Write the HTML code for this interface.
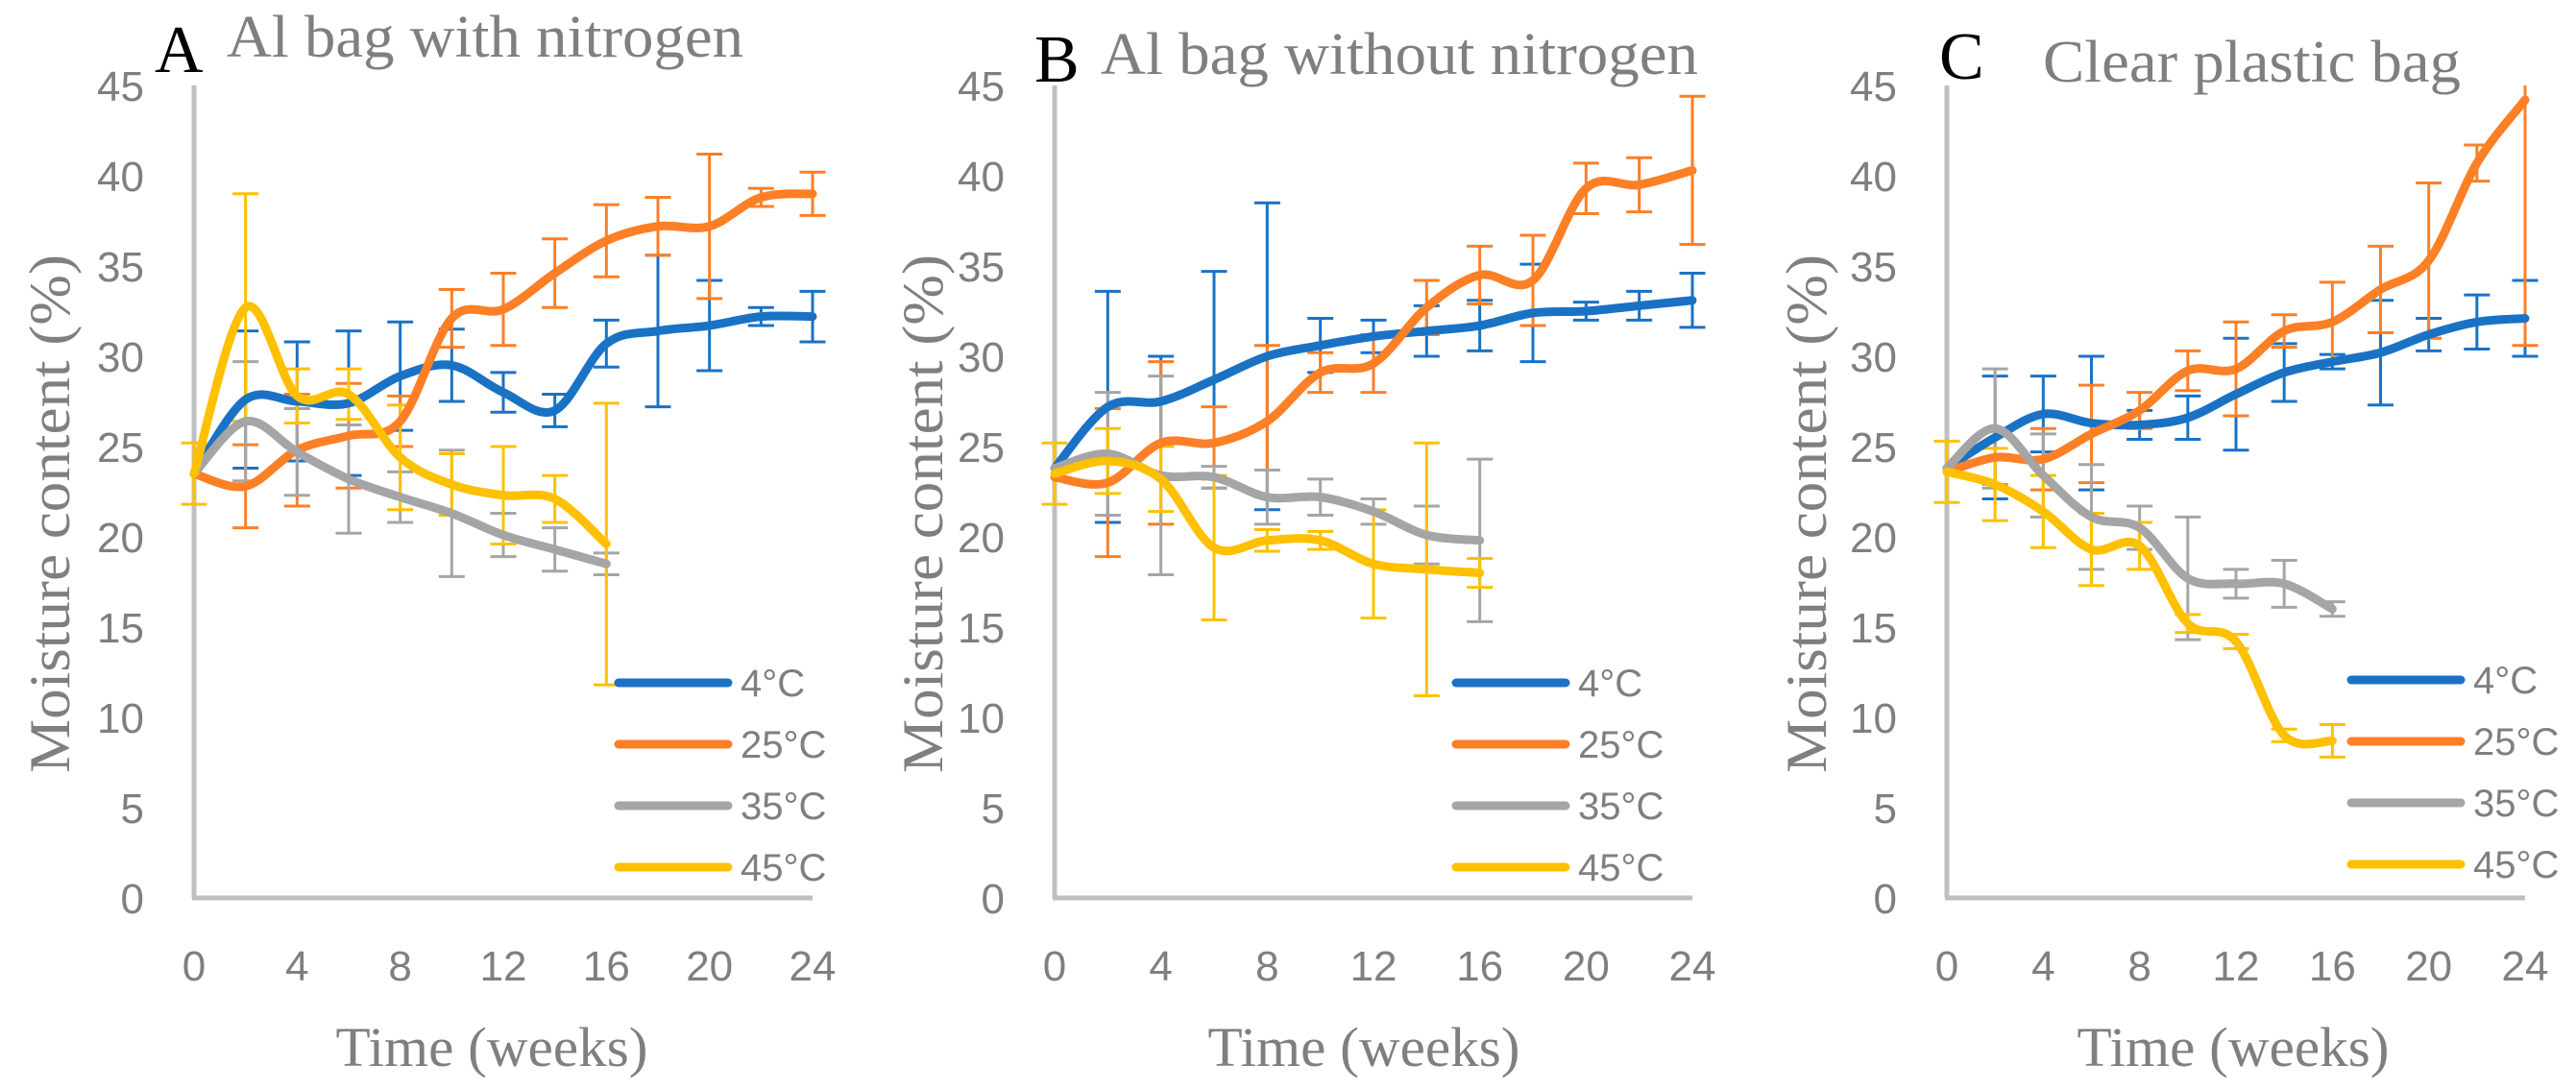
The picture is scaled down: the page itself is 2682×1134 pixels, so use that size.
<!DOCTYPE html>
<html><head><meta charset="utf-8"><style>
html,body{margin:0;padding:0;background:#fff;}
svg{display:block;}
</style></head><body>
<svg id="chart" width="2682" height="1134" viewBox="0 0 2682 1134" xmlns="http://www.w3.org/2000/svg"></svg>
<script>
// ---- data ----
const weeks = [0,2,4,6,8,10,12,14,16,18,20,22,24];
const xTicks = [0,4,8,12,16,20,24];
const yTicks = [0,5,10,15,20,25,30,35,40,45];
const seriesNames = ["4°C","25°C","35°C","45°C"];
const panelLetters = ["A","B","C"];
const panelTitles = ["Al bag with nitrogen","Al bag without nitrogen","Clear plastic bag"];

const a4   = [23.5,27.6,27.5,27.4,28.9,29.5,28.0,27.0,30.7,31.4,31.7,32.2,32.2];
const a4e  = [0,3.8,3.3,4,3,2,1.1,0.9,1.3,4.2,2.5,0.5,1.4];
const a25  = [23.5,22.8,24.8,25.6,26.4,32.1,32.6,34.6,36.4,37.2,37.2,38.8,39.0];
const a25e = [0,2.3,3.1,2.9,1.4,1.6,2,1.9,2,1.6,4,0.5,1.2];
const a35  = [23.5,26.4,24.7,23.2,22.2,21.3,20.1,19.3,18.5];
const a35e = [0,3.3,2.4,3,1.4,3.5,1.2,1.2,0.6];
const a45  = [23.5,32.7,27.8,27.9,24.4,22.9,22.3,22.1,19.6];
const a45e = [1.7,6.3,1.5,1.4,2.9,1.7,2.7,1.3,7.8];

const b4   = [23.8,27.2,27.5,28.7,30.0,30.6,31.1,31.4,31.7,32.4,32.5,32.8,33.1];
const b4e  = [0,6.4,2.5,6,8.5,1.5,0.9,1.4,1.4,2.7,0.5,0.8,1.5];
const b25  = [23.3,23.0,25.2,25.2,26.4,29.1,29.6,32.7,34.5,34.2,39.3,39.5,40.3];
const b25e = [0,4.1,4.5,2,4.2,1.1,1.6,1.5,1.6,2.5,1.4,1.5,4.1];
const b35  = [23.8,24.6,23.4,23.3,22.2,22.2,21.4,20.1,19.8];
const b35e = [0,3.4,5.5,0.6,1.5,1,0.7,1.6,4.5];
const b45  = [23.5,24.2,23.2,19.4,19.8,19.8,18.5,18.2,18.0];
const b45e = [1.7,1.8,1.8,4,0.6,0.5,3,7,0.8];

const c4   = [23.8,25.5,26.8,26.3,26.2,26.6,27.9,29.1,29.7,30.2,31.2,31.9,32.1];
const c4e  = [0,3.4,2.1,3.7,0.8,1.2,3.1,1.6,0.4,2.9,0.9,1.5,2.1];
const c25  = [23.6,24.4,24.3,25.7,27.0,29.2,29.3,31.4,31.9,33.7,35.3,40.7,44.2];
const c25e = [0,1.5,1.7,2.7,1,1.1,2.6,0.9,2.2,2.4,4.3,1,13.6];
const c35  = [23.8,26.0,23.4,21.1,20.5,17.7,17.4,17.4,16.0];
const c35e = [0,3.3,2.3,2.9,1.2,3.4,0.8,1.3,0.4];
const c45  = [23.6,22.9,21.4,19.3,19.5,15.2,14.2,9.0,8.7];
const c45e = [1.7,2,2,2,1.3,0.5,0.4,0.35,0.9];

// ---- layout ----
const colors = ["#1a72c5","#fd7f26","#a5a5a5","#ffc000"];
const panels = [
  {x0:202, x1:846, legX:640, legY:711, yTitleX:52, xTitleX:512, letterX:161, letterY:75, titleX:236, titleY:59, titleW:538,
   vals:[a4,a25,a35,a45], errs:[a4e,a25e,a35e,a45e]},
  {x0:1098, x1:1762, legX:1512, legY:711, yTitleX:961, xTitleX:1420, letterX:1077, letterY:85, titleX:1146, titleY:77, titleW:622,
   vals:[b4,b25,b35,b45], errs:[b4e,b25e,b35e,b45e]},
  {x0:2027, x1:2629, legX:2444, legY:708, yTitleX:1881, xTitleX:2325, letterX:2019, letterY:82, titleX:2127, titleY:85, titleW:435,
   vals:[c4,c25,c35,c45], errs:[c4e,c25e,c35e,c45e]}
];
const Y0 = 935, Y45 = 89;
function yScale(v){ return Y0 - (Y0 - Y45) * Math.max(0, Math.min(45, v)) / 45; }
function xScaleFor(p){ return w => p.x0 + (p.x1 - p.x0) * w / 24; }

const NS = "http://www.w3.org/2000/svg";
const svg = document.getElementById("chart");
function mk(tag, attrs, parent){
  const e = document.createElementNS(NS, tag);
  for (const k in attrs) e.setAttribute(k, attrs[k]);
  (parent || svg).appendChild(e);
  return e;
}
function smoothPath(pts){
  let d = "M" + pts[0][0] + "," + pts[0][1];
  for (let i = 0; i < pts.length - 1; i++){
    const p0 = pts[i-1] || pts[i], p1 = pts[i], p2 = pts[i+1], p3 = pts[i+2] || pts[i+1];
    const c1x = p1[0] + (p2[0]-p0[0])/6, c1y = p1[1] + (p2[1]-p0[1])/6;
    const c2x = p2[0] - (p3[0]-p1[0])/6, c2y = p2[1] - (p3[1]-p1[1])/6;
    d += " C" + c1x + "," + c1y + " " + c2x + "," + c2y + " " + p2[0] + "," + p2[1];
  }
  return d;
}
const SANS = "'Liberation Sans', Arial, sans-serif";
const SERIF = "'Liberation Serif', 'Times New Roman', serif";

panels.forEach((p, pi) => {
  const xs = xScaleFor(p);
  const g = mk("g", {});
  
  

  const ya = mk("line", {x1:p.x0, y1:Y45, x2:p.x0, y2:Y0, stroke:"#bfbfbf", "stroke-width":5}, g);
  
  
  const xa = mk("line", {x1:p.x0-2, y1:Y0, x2:p.x1, y2:Y0, stroke:"#bfbfbf", "stroke-width":5}, g);
  
  

  yTicks.forEach(t => {
    const tx = mk("text", {x:p.x0-52, y:yScale(t)+16, "text-anchor":"end", fill:"#7f7f7f", "font-size":44, "font-family":SANS}, g);
    tx.textContent = t;
    
    
  });
  xTicks.forEach(t => {
    const tx = mk("text", {x:xs(t), y:1021, "text-anchor":"middle", fill:"#7f7f7f", "font-size":44, "font-family":SANS}, g);
    tx.textContent = t;
    
    
  });

  const yt = mk("text", {x:0, y:0, transform:"translate(" + (p.yTitleX+20) + ",535) rotate(-90)", "text-anchor":"middle", fill:"#7f7f7f", "font-size":60, "font-family":SERIF, textLength:540, lengthAdjust:"spacingAndGlyphs"}, g);
  yt.textContent = "Moisture content (%)";
  
  
  const xt = mk("text", {x:p.xTitleX, y:1110, "text-anchor":"middle", fill:"#7f7f7f", "font-size":58, "font-family":SERIF, textLength:325, lengthAdjust:"spacingAndGlyphs"}, g);
  xt.textContent = "Time (weeks)";
  
  
  const lt = mk("text", {x:p.letterX, y:p.letterY, fill:"#000", "font-size":70, "font-family":SERIF}, g);
  lt.textContent = panelLetters[pi];
  
  
  const tt = mk("text", {x:p.titleX, y:p.titleY, fill:"#7f7f7f", "font-size":62, "font-family":SERIF, textLength:p.titleW, lengthAdjust:"spacingAndGlyphs"}, g);
  tt.textContent = panelTitles[pi];
  
  

  p.vals.forEach((vals, si) => {
    const errs = p.errs[si];
    vals.forEach((v, i) => {
      const e = errs[i];
      if (!e) return;
      const x = xs(weeks[i]), yt2 = yScale(v+e), yb = yScale(v-e);
      const eg = mk("g", {stroke:colors[si], "stroke-width":3}, g);
      
      
      mk("line", {x1:x, y1:yt2, x2:x, y2:yb}, eg);
      if (v + e <= 45) mk("line", {x1:x-13.5, y1:yt2, x2:x+13.5, y2:yt2}, eg);
      mk("line", {x1:x-13.5, y1:yb, x2:x+13.5, y2:yb}, eg);
    });
  });
  p.vals.forEach((vals, si) => {
    const pts = vals.map((v, i) => [xs(weeks[i]), yScale(v)]);
    const path = mk("path", {d:smoothPath(pts), fill:"none", stroke:colors[si], "stroke-width":9, "stroke-linecap":"round", "stroke-linejoin":"round"}, g);
    
    
  });
  seriesNames.forEach((n, si) => {
    const ly = p.legY + si*64;
    const lg = mk("g", {}, g);
    
    
    mk("line", {x1:p.legX+4, y1:ly, x2:p.legX+118, y2:ly, stroke:colors[si], "stroke-width":9, "stroke-linecap":"round"}, lg);
    const t = mk("text", {x:p.legX+131, y:ly+14, fill:"#7f7f7f", "font-size":40, "font-family":SANS}, lg);
    t.textContent = n;
  });
});
</script>
</body></html>
